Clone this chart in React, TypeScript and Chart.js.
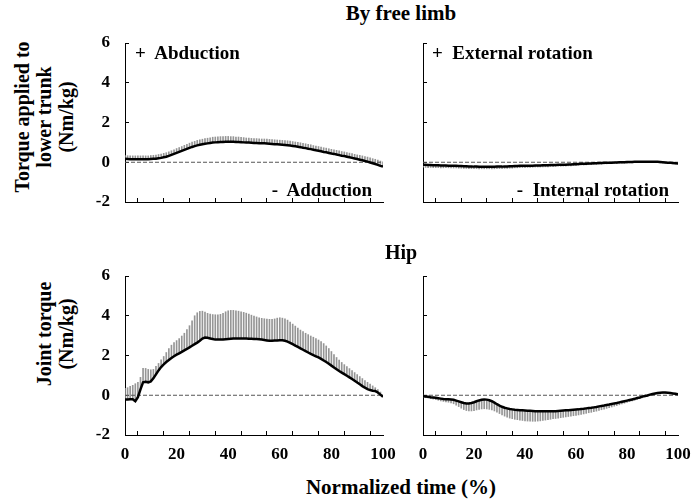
import React, { useEffect, useRef } from "react";
import { Chart, registerables } from "chart.js";

Chart.register(...registerables);

const FONT = "'Liberation Serif', 'Times New Roman', serif";

const TIME = Array.from({ length: 101 }, (_, i) => i);
const Y_TICK_LABELS = [-2, 0, 2, 4, 6];
const X_TICK_LABELS = [0, 20, 40, 60, 80, 100];

const FREE_ABD_MEAN = [
  0.17, 0.16, 0.15, 0.15, 0.15, 0.15, 0.15, 0.15, 0.15, 0.15,
  0.16, 0.17, 0.18, 0.2, 0.22, 0.25, 0.28, 0.32, 0.37, 0.42,
  0.47, 0.52, 0.57, 0.62, 0.67, 0.72, 0.77, 0.81, 0.85, 0.88,
  0.91, 0.93, 0.95, 0.97, 0.99, 1.0, 1.01, 1.02, 1.02, 1.03,
  1.03, 1.03, 1.03, 1.02, 1.02, 1.01, 1.0, 0.99, 0.99, 0.98,
  0.97, 0.97, 0.96, 0.95, 0.95, 0.94, 0.93, 0.92, 0.91, 0.9,
  0.89, 0.88, 0.87, 0.86, 0.84, 0.82, 0.8, 0.78, 0.76, 0.73,
  0.71, 0.68, 0.66, 0.63, 0.6, 0.58, 0.55, 0.52, 0.5, 0.47,
  0.44, 0.42, 0.39, 0.36, 0.33, 0.31, 0.28, 0.25, 0.22, 0.19,
  0.16, 0.13, 0.1, 0.06, 0.03, -0.01, -0.05, -0.09, -0.13, -0.18,
  -0.22,
];
const FREE_ABD_SD = [
  0.17, 0.17, 0.17, 0.17, 0.17, 0.17, 0.17, 0.17, 0.17, 0.17,
  0.18, 0.18, 0.18, 0.19, 0.19, 0.2, 0.2, 0.21, 0.21, 0.21,
  0.22, 0.22, 0.22, 0.23, 0.23, 0.24, 0.24, 0.24, 0.25, 0.25,
  0.25, 0.26, 0.26, 0.26, 0.27, 0.27, 0.27, 0.27, 0.27, 0.27,
  0.27, 0.26, 0.26, 0.25, 0.25, 0.24, 0.24, 0.23, 0.23, 0.22,
  0.22, 0.22, 0.22, 0.22, 0.22, 0.22, 0.22, 0.22, 0.22, 0.22,
  0.22, 0.22, 0.22, 0.22, 0.22, 0.22, 0.22, 0.22, 0.22, 0.22,
  0.22, 0.22, 0.22, 0.21, 0.21, 0.21, 0.21, 0.21, 0.21, 0.21,
  0.21, 0.21, 0.21, 0.21, 0.21, 0.21, 0.21, 0.21, 0.21, 0.21,
  0.21, 0.22, 0.22, 0.22, 0.23, 0.23, 0.23, 0.24, 0.24, 0.24,
  0.24,
];

const FREE_ROT_MEAN = [
  -0.12, -0.13, -0.14, -0.14, -0.15, -0.15, -0.15, -0.16, -0.16, -0.16,
  -0.17, -0.17, -0.18, -0.18, -0.19, -0.19, -0.2, -0.2, -0.21, -0.21,
  -0.22, -0.22, -0.23, -0.23, -0.23, -0.23, -0.23, -0.23, -0.23, -0.22,
  -0.22, -0.22, -0.21, -0.21, -0.2, -0.2, -0.19, -0.19, -0.18, -0.18,
  -0.18, -0.17, -0.17, -0.17, -0.16, -0.16, -0.16, -0.15, -0.15, -0.15,
  -0.14, -0.14, -0.14, -0.13, -0.13, -0.12, -0.12, -0.11, -0.11, -0.1,
  -0.1, -0.09, -0.08, -0.08, -0.07, -0.06, -0.06, -0.05, -0.05, -0.04,
  -0.04, -0.03, -0.03, -0.02, -0.02, -0.01, -0.01, 0.0, 0.0, 0.0,
  0.01, 0.01, 0.01, 0.02, 0.02, 0.02, 0.03, 0.03, 0.03, 0.03,
  0.03, 0.02, 0.02, 0.01, 0.0, -0.01, -0.02, -0.03, -0.04, -0.05,
  -0.06,
];
const FREE_ROT_SD = [
  0.13, 0.13, 0.13, 0.12, 0.12, 0.12, 0.12, 0.12, 0.12, 0.11,
  0.11, 0.11, 0.11, 0.11, 0.11, 0.11, 0.11, 0.11, 0.11, 0.11,
  0.1, 0.1, 0.1, 0.1, 0.1, 0.1, 0.1, 0.1, 0.1, 0.1,
  0.1, 0.1, 0.1, 0.1, 0.1, 0.1, 0.09, 0.09, 0.09, 0.09,
  0.09, 0.09, 0.09, 0.08, 0.08, 0.08, 0.08, 0.08, 0.08, 0.08,
  0.08, 0.08, 0.07, 0.07, 0.07, 0.07, 0.07, 0.07, 0.07, 0.07,
  0.06, 0.06, 0.06, 0.06, 0.06, 0.06, 0.06, 0.06, 0.06, 0.06,
  0.06, 0.05, 0.05, 0.05, 0.05, 0.05, 0.05, 0.05, 0.05, 0.05,
  0.05, 0.04, 0.04, 0.04, 0.04, 0.04, 0.04, 0.04, 0.04, 0.04,
  0.04, 0.04, 0.04, 0.04, 0.04, 0.04, 0.04, 0.04, 0.04, 0.04,
  0.04,
];

const HIP_ABD_MEAN = [
  -0.22, -0.21, -0.2, -0.2, -0.3, -0.1, 0.3, 0.65, 0.68, 0.65,
  0.7, 0.85, 1.05, 1.25, 1.42, 1.55, 1.67, 1.77, 1.87, 1.96,
  2.04, 2.11, 2.18, 2.26, 2.33, 2.41, 2.49, 2.57, 2.65, 2.74,
  2.85, 2.9, 2.89, 2.86, 2.83, 2.8, 2.8, 2.8, 2.81, 2.82,
  2.83, 2.84, 2.85, 2.86, 2.86, 2.86, 2.85, 2.85, 2.84, 2.84,
  2.83, 2.83, 2.82, 2.8, 2.78, 2.76, 2.74, 2.74, 2.75, 2.76,
  2.77, 2.77, 2.74, 2.7, 2.64, 2.57, 2.5, 2.43, 2.36, 2.29,
  2.22, 2.15, 2.08, 2.02, 1.96, 1.9, 1.83, 1.75, 1.67, 1.58,
  1.49, 1.4, 1.31, 1.22, 1.14, 1.06, 0.98, 0.9, 0.82, 0.73,
  0.64, 0.55, 0.46, 0.38, 0.31, 0.26, 0.23, 0.21, 0.14, 0.03,
  -0.08,
];
const HIP_ABD_SD = [
  0.57, 0.59, 0.65, 0.7, 0.88, 0.75, 0.6, 0.7, 0.67, 0.65,
  0.58, 0.45, 0.4, 0.35, 0.36, 0.4, 0.48, 0.58, 0.65, 0.69,
  0.71, 0.74, 0.8, 0.86, 0.97, 1.09, 1.26, 1.43, 1.5, 1.48,
  1.38, 1.28, 1.23, 1.22, 1.23, 1.25, 1.25, 1.27, 1.31, 1.38,
  1.42, 1.43, 1.42, 1.39, 1.37, 1.34, 1.32, 1.28, 1.24, 1.19,
  1.15, 1.11, 1.08, 1.07, 1.07, 1.07, 1.08, 1.08, 1.09, 1.12,
  1.13, 1.11, 1.1, 1.08, 1.04, 1.01, 0.98, 0.95, 0.92, 0.91,
  0.9, 0.9, 0.9, 0.9, 0.89, 0.88, 0.87, 0.85, 0.81, 0.77,
  0.71, 0.65, 0.59, 0.55, 0.51, 0.48, 0.46, 0.44, 0.42, 0.41,
  0.4, 0.39, 0.38, 0.36, 0.34, 0.3, 0.24, 0.17, 0.14, 0.13,
  0.12,
];

const HIP_ROT_MEAN = [
  -0.05, -0.06, -0.08, -0.1, -0.11, -0.13, -0.15, -0.17, -0.19, -0.2,
  -0.2, -0.21, -0.23, -0.27, -0.31, -0.35, -0.39, -0.41, -0.41, -0.39,
  -0.35, -0.3, -0.26, -0.23, -0.21, -0.22, -0.25, -0.3, -0.37, -0.45,
  -0.52, -0.58, -0.63, -0.66, -0.69, -0.71, -0.73, -0.74, -0.75, -0.76,
  -0.77, -0.78, -0.78, -0.79, -0.8, -0.8, -0.81, -0.81, -0.81, -0.81,
  -0.81, -0.8, -0.8, -0.79, -0.78, -0.77, -0.76, -0.75, -0.74, -0.73,
  -0.72, -0.71, -0.69, -0.68, -0.66, -0.64, -0.63, -0.61, -0.59, -0.56,
  -0.54, -0.52, -0.49, -0.47, -0.44, -0.41, -0.39, -0.36, -0.33, -0.3,
  -0.27, -0.24, -0.21, -0.18, -0.14, -0.11, -0.07, -0.04, -0.01, 0.03,
  0.06, 0.09, 0.11, 0.13, 0.14, 0.14, 0.13, 0.11, 0.09, 0.07,
  0.05,
];
const HIP_ROT_SD = [
  0.05, 0.06, 0.06, 0.07, 0.08, 0.09, 0.1, 0.11, 0.12, 0.13,
  0.15, 0.17, 0.2, 0.23, 0.26, 0.3, 0.33, 0.36, 0.38, 0.4,
  0.42, 0.44, 0.45, 0.46, 0.47, 0.47, 0.46, 0.44, 0.42, 0.4,
  0.4, 0.41, 0.42, 0.44, 0.46, 0.47, 0.48, 0.49, 0.5, 0.51,
  0.52, 0.52, 0.52, 0.52, 0.51, 0.5, 0.48, 0.46, 0.44, 0.42,
  0.4, 0.38, 0.37, 0.36, 0.35, 0.34, 0.33, 0.32, 0.31, 0.3,
  0.29, 0.28, 0.27, 0.26, 0.25, 0.24, 0.23, 0.22, 0.21, 0.2,
  0.19, 0.18, 0.17, 0.16, 0.15, 0.14, 0.13, 0.12, 0.11, 0.1,
  0.09, 0.08, 0.08, 0.07, 0.07, 0.06, 0.06, 0.05, 0.05, 0.05,
  0.05, 0.04, 0.04, 0.04, 0.04, 0.04, 0.04, 0.04, 0.03, 0.03,
  0.03,
];

type PanelProps = {
  mean: number[];
  sd: number[];
  dir: number;
  left: number;
  top: number;
  width: number;
  height: number;
  yAxisWidth: number;
  xAxisHeight: number;
  padTop: number;
  padRight: number;
  showX: boolean;
  showY: boolean;
};

function zeroPadding(s: any) {
  s.paddingTop = 0;
  s.paddingBottom = 0;
  s.paddingLeft = 0;
  s.paddingRight = 0;
}

function Panel(p: PanelProps) {
  const ref = useRef<HTMLCanvasElement | null>(null);
  useEffect(() => {
    if (!ref.current) return;
    const bars = TIME.map((t, i) => ({ x: t, y: [p.mean[i], p.mean[i] + p.dir * p.sd[i]] }));
    const line = TIME.map((t, i) => ({ x: t, y: p.mean[i] }));
    const zero = [
      { x: TIME[0], y: 0 },
      { x: TIME[TIME.length - 1], y: 0 },
    ];
    const tickFont = { family: FONT, size: 17, weight: "bold" as const };
    const chart = new Chart(ref.current, {
      type: "line",
      data: {
        datasets: [
          {
            type: "bar",
            data: bars as any,
            backgroundColor: "#959595",
            borderWidth: 0,
            barThickness: 1,
            order: 3,
          } as any,
          {
            type: "line",
            data: zero,
            borderColor: "#555",
            borderWidth: 1,
            borderDash: [4, 2],
            pointRadius: 0,
            order: 2,
          },
          {
            type: "line",
            data: line,
            borderColor: "#000",
            borderWidth: 2.5,
            pointRadius: 0,
            tension: 0,
            order: 1,
          },
        ],
      },
      options: {
        responsive: false,
        animation: false,
        events: [],
        layout: { padding: { top: p.padTop, right: p.padRight, left: 0, bottom: 0 } },
        plugins: { legend: { display: false }, tooltip: { enabled: false } },
        scales: {
          x: {
            type: "linear",
            min: 0,
            max: 100,
            offset: false,
            border: { display: true, color: "#000", width: 1 },
            grid: { drawOnChartArea: false, drawTicks: true, tickLength: -4, color: "#000" },
            ticks: {
              stepSize: 10,
              autoSkip: false,
              maxRotation: 0,
              padding: 13,
              color: "#000",
              font: tickFont,
              callback: (v: any) => (p.showX && X_TICK_LABELS.includes(Number(v)) ? String(v) : ""),
            },
            afterFit: (s: any) => {
              s.height = p.xAxisHeight;
              zeroPadding(s);
            },
          },
          y: {
            type: "linear",
            min: Y_TICK_LABELS[0],
            max: Y_TICK_LABELS[Y_TICK_LABELS.length - 1],
            border: { display: true, color: "#000", width: 1 },
            grid: { drawOnChartArea: false, drawTicks: true, tickLength: -4, color: "#000" },
            ticks: {
              stepSize: 2,
              padding: 19,
              color: "#000",
              font: tickFont,
              callback: (v: any) => (p.showY && Y_TICK_LABELS.includes(Number(v)) ? String(v) : ""),
            },
            afterFit: (s: any) => {
              s.width = p.yAxisWidth;
              zeroPadding(s);
            },
          },
        },
      },
    } as any);
    return () => chart.destroy();
  }, []);
  return (
    <canvas
      ref={ref}
      width={p.width}
      height={p.height}
      style={{ position: "absolute", left: p.left, top: p.top, width: p.width, height: p.height }}
    />
  );
}

const textBase: React.CSSProperties = {
  position: "absolute",
  fontFamily: FONT,
  fontWeight: "bold",
  color: "#000",
  whiteSpace: "pre",
  lineHeight: 1,
};

function Centered({ x, y, size, children }: { x: number; y: number; size: number; children: React.ReactNode }) {
  return (
    <div style={{ ...textBase, fontSize: size, left: x, top: y - size / 2, transform: "translateX(-50%)" }}>
      {children}
    </div>
  );
}

function Rotated({ x, y, size, lines }: { x: number; y: number; size: number; lines: string[] }) {
  return (
    <div
      style={{
        ...textBase,
        fontSize: size,
        lineHeight: "22px",
        textAlign: "center",
        left: x,
        top: y,
        transform: "translate(-50%, -50%) rotate(-90deg)",
      }}
    >
      {lines.map((l, i) => (
        <div key={i}>{l}</div>
      ))}
    </div>
  );
}

export default function App() {
  useEffect(() => {
    document.body.style.margin = "0";
  }, []);
  const annSize = 19;
  return (
    <div style={{ position: "absolute", left: 0, top: 0, width: 694, height: 502, background: "#fff", overflow: "hidden" }}>
      <Panel mean={FREE_ABD_MEAN} sd={FREE_ABD_SD} dir={1} left={90} top={30} width={320} height={185}
        yAxisWidth={35} xAxisHeight={13} padTop={13} padRight={27} showX={false} showY={true} />
      <Panel mean={FREE_ROT_MEAN} sd={FREE_ROT_SD} dir={-1} left={410} top={30} width={284} height={185}
        yAxisWidth={13} xAxisHeight={13} padTop={13} padRight={16} showX={false} showY={false} />
      <Panel mean={HIP_ABD_MEAN} sd={HIP_ABD_SD} dir={1} left={90} top={263} width={320} height={207}
        yAxisWidth={35} xAxisHeight={35} padTop={13} padRight={27} showX={true} showY={true} />
      <Panel mean={HIP_ROT_MEAN} sd={HIP_ROT_SD} dir={-1} left={410} top={263} width={284} height={207}
        yAxisWidth={13} xAxisHeight={35} padTop={13} padRight={16} showX={true} showY={false} />

      <Centered x={401} y={13} size={21}>By free limb</Centered>
      <Centered x={401} y={252} size={20}>Hip</Centered>
      <Centered x={401} y={487} size={21}>Normalized time (%)</Centered>

      <Rotated x={44} y={117} size={20} lines={["Torque applied to", "lower trunk", "(Nm/kg)"]} />
      <Rotated x={55} y={334} size={20} lines={["Joint torque", "(Nm/kg)"]} />

      <div style={{ ...textBase, fontSize: annSize, left: 135, top: 52 - annSize / 2 }}>{"+  Abduction"}</div>
      <div style={{ ...textBase, fontSize: annSize, right: 694 - 372, top: 189 - annSize / 2 }}>{"-  Adduction"}</div>
      <div style={{ ...textBase, fontSize: annSize, left: 432, top: 52 - annSize / 2 }}>{"+  External rotation"}</div>
      <div style={{ ...textBase, fontSize: annSize, right: 694 - 669, top: 189 - annSize / 2 }}>{"-  Internal rotation"}</div>
    </div>
  );
}
